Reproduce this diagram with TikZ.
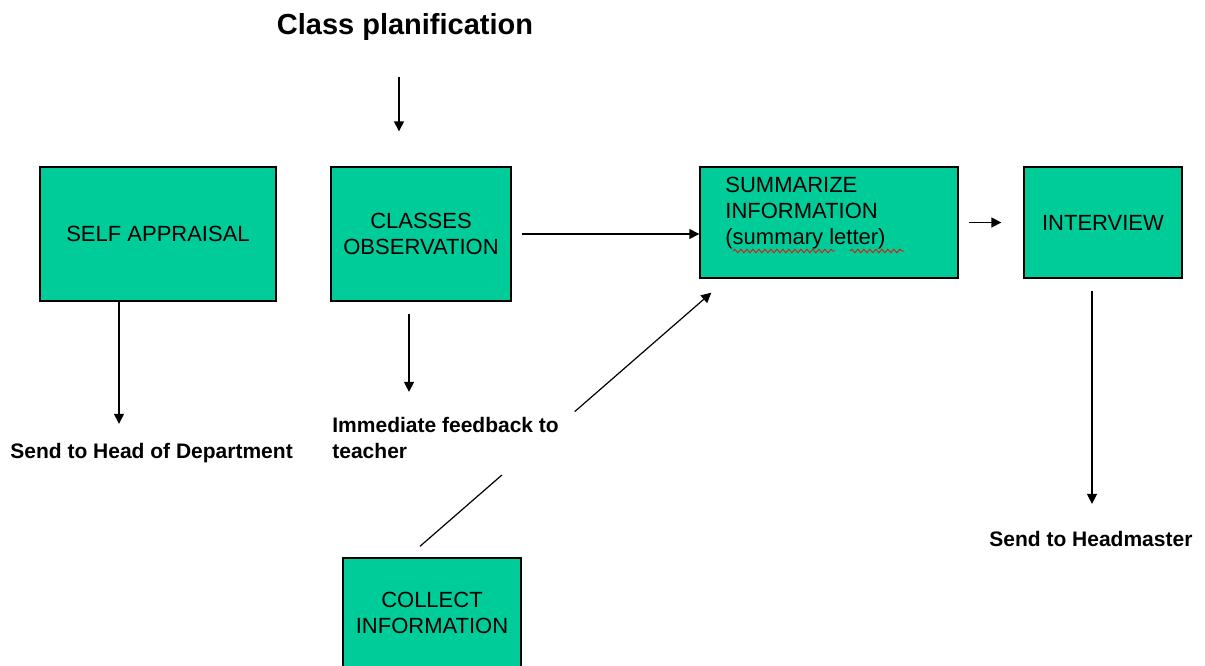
\documentclass[tikz,border=0pt]{standalone}
\usepackage{fontspec}
\setmainfont{Liberation Sans}
\usetikzlibrary{positioning,arrows.meta,decorations.pathmorphing}
\definecolor{boxgreen}{HTML}{00CC99}

\begin{document}
\begin{tikzpicture}[x=0.5pt, y=-0.5pt,
    every node/.style={font=\fontsize{11}{13}\selectfont},
    box/.style={draw, line width=0.7pt, fill=boxgreen, align=center, inner sep=0pt},
    lbl/.style={font=\fontsize{10.5}{13}\selectfont\bfseries, inner sep=0pt, align=left},
    arr/.style={-{Triangle[length=5pt,width=5pt]}, line width=0.7pt}]
    \useasboundingbox (0,0) rectangle (1205,665);

    \node[font=\fontsize{14.5}{17}\selectfont\bfseries, inner sep=0pt] (title) at (405,27) {Class planification};
    \node[box, minimum width=118pt, minimum height=67pt] (appraisal) at (158,234) {SELF APPRAISAL};
    \node[box, minimum width=90pt, minimum height=67pt] (obs) at (421,234) {CLASSES\\OBSERVATION};
    \node[box, minimum width=129pt, minimum height=55.5pt] (summ) at (829,222.5) {};
    \node[inner sep=0pt, align=left, anchor=west] (summtext) at (725,213) {SUMMARIZE\\INFORMATION\\(summary letter)};
    \node[box, minimum width=79pt, minimum height=55.5pt] (interview) at (1103,222.5) {INTERVIEW};
    \node[box, minimum width=89pt, minimum height=55pt] (collect) at (432,613) {COLLECT\\INFORMATION};

    \node[lbl, anchor=west] (sendhod) at (10,453) {Send to Head of Department};
    \node[lbl, anchor=west] (feedback) at (332,438) {Immediate feedback to\\teacher};
    \node[lbl, anchor=west] (sendhm) at (989,539) {Send to Headmaster};

    % spell-check marks under the summary text
    \draw[red, line width=0.4pt, decorate, decoration={snake, amplitude=0.9pt, segment length=3pt}] (733,251) -- (835,251);
    \draw[red, line width=0.4pt, decorate, decoration={snake, amplitude=0.9pt, segment length=3pt}] (850,251) -- (904,251);

    \draw[arr, shorten <=18pt, shorten >=17.5pt] ([xshift=-3pt]title.south) -- ([xshift=-11pt]obs.north);

    \coordinate (sa) at ([xshift=-19.5pt]appraisal.south);
    \draw[arr, shorten >=9.5pt] (sa) -- (sa |- sendhod.north);

    \coordinate (ob) at ([xshift=-6pt,yshift=-6pt]obs.south);
    \draw[arr, shorten >=12.5pt] (ob) -- (ob |- feedback.north);

    \draw[arr, shorten <=5pt] (obs.east) -- (obs.east -| summ.west);
    \draw[arr, shorten <=5pt, shorten >=11pt] (summ.east) -- (interview.west);

    \coordinate (iv) at ([xshift=-5.5pt,yshift=-6pt]interview.south);
    \draw[arr, shorten >=13.5pt] (iv) -- (iv |- sendhm.north);

    % broken diagonal from collect to summarize
    \coordinate (c0) at ([xshift=-6pt,yshift=5.5pt]collect.north);
    \coordinate (c1) at ([xshift=6pt,yshift=-7pt]summ.south west);
    \path (c0) -- coordinate[pos=0.281] (g0) coordinate[pos=0.531] (g1) (c1);
    \draw[line width=0.6pt] (c0) -- (g0);
    \draw[arr, line width=0.6pt] (g1) -- (c1);
\end{tikzpicture}
\end{document}
